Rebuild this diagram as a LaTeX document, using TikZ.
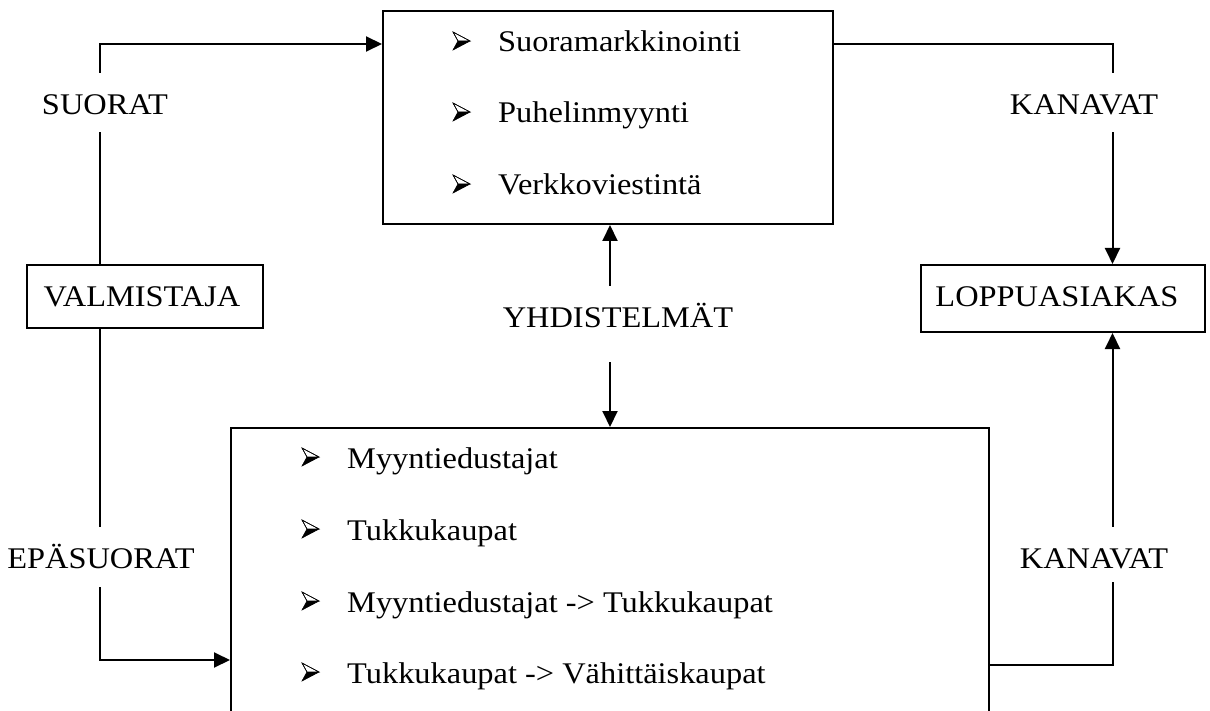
\documentclass[tikz,border=0pt]{standalone}
\usepackage{fontspec}
\setmainfont{Liberation Serif}[FakeStretch=1.08]
\usetikzlibrary{arrows.meta,calc}

\tikzset{
  box/.style={draw, line width=2pt, rectangle, inner sep=0pt, anchor=north west},
  line/.style={line width=2pt},
  conn/.style={line width=2pt, -{Triangle[length=16pt,width=15pt]}},
  lbl/.style={inner xsep=0pt, anchor=base, text depth=0pt},
  item/.style={inner sep=0pt, anchor=base west},
  bul/.pic={
    \draw[line width=0.6pt, fill=white, line join=miter] (0,-9) -- (17,0) -- (5,0) -- cycle;
    \fill[black] (0,9) -- (17,0) -- (5,0) -- cycle;
    \draw[line width=0.6pt, line join=miter] (0,-9) -- (17,0) -- (0,9) -- (5,0) -- cycle;
  }
}

\begin{document}
\begin{tikzpicture}[x=1pt, y=-1pt, font=\fontsize{30}{34}\selectfont]
\useasboundingbox (0,0) rectangle (1210,711);

% boxes
\node[box, minimum width=450pt, minimum height=213pt] (direct) at (382,10) {};
\node[box, minimum width=236pt, minimum height=63pt] (valm) at (26,264) {};
\node[box, minimum width=284pt, minimum height=67pt] (loppu) at (920,264) {};
\begin{scope}
  \clip (0,0) rectangle (1210,711);
  \node[box, minimum width=758pt, minimum height=320pt] (indirect) at (230,427) {};
\end{scope}

% box texts
\node[lbl, inner ysep=0pt] (valmtxt) at (142,307) {VALMISTAJA};
\node[lbl, inner ysep=0pt] (lopputxt) at (1057,306) {LOPPUASIAKAS};

% channel labels
\node[lbl, text height=25pt, inner ysep=17pt] (suorat) at (105,115) {SUORAT};
\node[lbl, text height=24pt, text depth=2pt, inner ysep=17pt] (epa) at (101,568) {EPÄSUORAT};
\node[lbl, text height=25pt, inner ysep=17pt] (kan1) at (1084,115) {KANAVAT};
\node[lbl, text height=27pt, inner ysep=14pt] (kan2) at (1094,568) {KANAVAT};
\node[lbl, text height=20pt, text depth=14pt, inner ysep=21pt] (yhd) at (618,327) {YHDISTELMÄT};

% list items, direct channels
\node[item] (d1) at (498,52) {Suoramarkkinointi};
\node[item] (d2) at (498,123) {Puhelinmyynti};
\node[item] (d3) at (498,195) {Verkkoviestintä};
\pic at (453,41) {bul};
\pic at (453,112) {bul};
\pic at (453,184) {bul};

% list items, indirect channels
\node[item] (i1) at (347,468) {Myyntiedustajat};
\node[item] (i2) at (347,540) {Tukkukaupat};
\node[item] (i3) at (347,612) {Myyntiedustajat -> Tukkukaupat};
\node[item] (i4) at (347,683) {Tukkukaupat -> Vähittäiskaupat};
\pic at (302,457) {bul};
\pic at (302,529) {bul};
\pic at (302,601) {bul};
\pic at (302,672) {bul};

% routing columns and box ports
\coordinate (leftX) at (100,0);
\coordinate (rightX) at (1112.5,0);
\coordinate (midX) at (610,0);
\coordinate (topIn) at ($(direct.north west)+(0,34)$);
\coordinate (topOut) at ($(direct.north east)+(0,34)$);
\coordinate (botIn) at ($(indirect.north west)+(0,233)$);
\coordinate (botOut) at ($(indirect.north east)+(0,238)$);

% connectors
\draw[line] (valm.north -| leftX) -- (suorat.south -| leftX);
\draw[conn] (suorat.north -| leftX) |- (topIn);
\draw[line] (valm.south -| leftX) -- (epa.north -| leftX);
\draw[conn] (epa.south -| leftX) |- (botIn);

\draw[line] (topOut) -| (kan1.north -| rightX);
\draw[conn] (kan1.south -| rightX) -- (loppu.north -| rightX);
\draw[line] (botOut) -| (kan2.south -| rightX);
\draw[conn] (kan2.north -| rightX) -- (loppu.south -| rightX);

\draw[conn] (yhd.north -| midX) -- (direct.south -| midX);
\draw[conn] (yhd.south -| midX) -- (indirect.north -| midX);
\end{tikzpicture}
\end{document}
